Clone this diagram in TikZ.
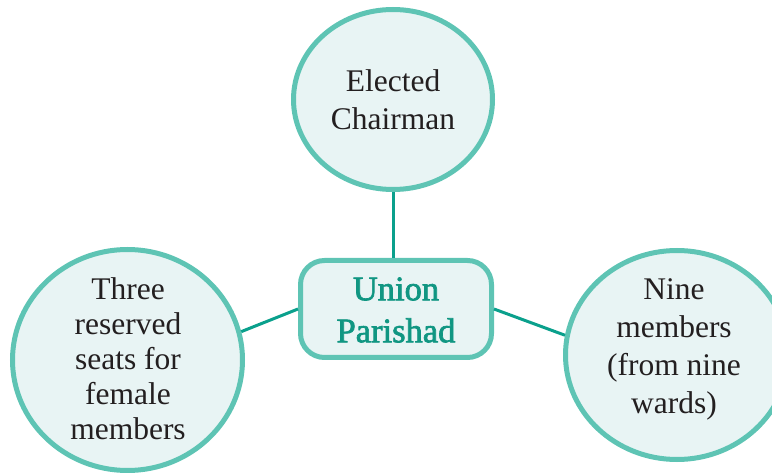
\documentclass[tikz,border=0pt]{standalone}
\usepackage{fontspec}
\setmainfont{Liberation Serif}
\newfontfamily\headfont[FakeBold=2]{Liberation Serif}
\usetikzlibrary{shapes.geometric}

\definecolor{ringteal}{RGB}{94,196,180}
\definecolor{paletint}{RGB}{232,244,244}
\definecolor{linkteal}{RGB}{10,160,140}
\definecolor{headteal}{RGB}{16,150,130}
\definecolor{bodytext}{RGB}{35,31,32}

\tikzset{
  bubble/.style={ellipse, draw=ringteal, fill=paletint, line width=5pt, inner sep=0pt},
  hubbox/.style={rectangle, rounded corners=24pt, draw=ringteal, fill=paletint,
                 line width=5pt, minimum width=191pt, minimum height=97pt, inner sep=0pt},
  bodylabel/.style={align=center, text=bodytext, inner sep=0pt,
                    font=\fontsize{31.5}{38}\selectfont},
  headlabel/.style={align=center, text=headteal, inner sep=0pt,
                    font=\headfont\fontsize{34.5}{42}\selectfont},
  link/.style={draw=linkteal, line width=3pt}
}

\begin{document}
\begin{tikzpicture}[x=1pt, y=-1pt]
  \useasboundingbox (0,0) rectangle (772,473);

  % the three member groups and the central council box
  \node[bubble, minimum width=199pt, minimum height=180pt] (chair) at (393,99.5) {};
  \node[bubble, minimum width=230pt, minimum height=221pt] (female) at (127.5,360) {};
  \node[bubble, minimum width=223pt, minimum height=209pt] (wards) at (677,355) {};
  \node[hubbox] (hub) at (396,309) {};

  % connectors from each group to the council
  \draw[link] (chair.south) -- (chair.south |- hub.north);
  \draw[link] (female.14) -- (hub.west);
  \draw[link] (hub.east) -- (wards.170);

  % labels
  \node[bodylabel] (chairtext) at (393,100) {Elected\\Chairman};
  \node[bodylabel, font=\fontsize{31.5}{35}\selectfont] (femaletext) at (128,358.5)
       {Three\\reserved\\seats for\\female\\members};
  \node[bodylabel] (wardstext) at (674,349) {Nine\\members\\(from nine\\wards)};
  \node[headlabel] (hubtext) at (396,310) {Union\\Parishad};
\end{tikzpicture}
\end{document}
